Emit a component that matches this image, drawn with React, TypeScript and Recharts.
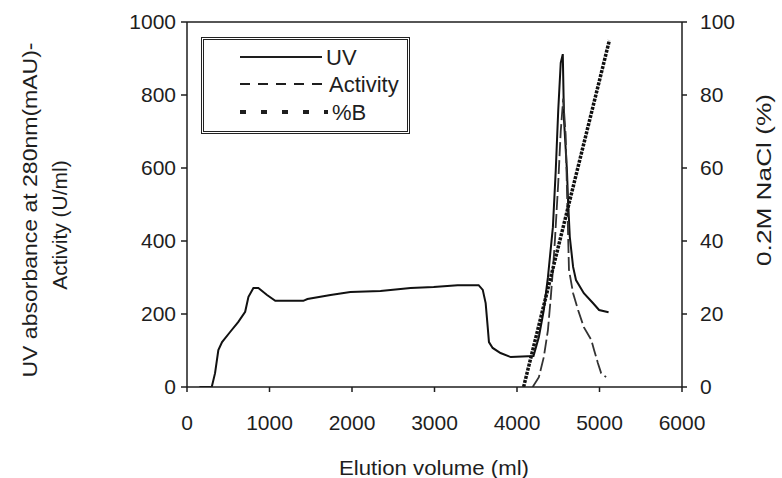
import React from 'react';
import { ComposedChart, Line, XAxis, YAxis, ReferenceLine, Legend } from 'recharts';

// ---- Data ----
const volumeTicks = [0, 1000, 2000, 3000, 4000, 5000, 6000];
const leftTicks = [0, 200, 400, 600, 800, 1000];
const rightTicks = [0, 20, 40, 60, 80, 100];

const uvVolume = [150, 300, 340, 380, 425, 520, 620, 705, 745, 805, 865, 970, 1070, 1410, 1460, 1740, 1980, 2345, 2710, 2990, 3280, 3535, 3585, 3620, 3645, 3660, 3705, 3800, 3925, 4200, 4265, 4325, 4375, 4435, 4470, 4500, 4530, 4555, 4570, 4605, 4620, 4640, 4680, 4715, 4810, 4920, 4995, 5110];
const uvAbsorbance = [0, 0, 38, 101, 123, 150, 178, 206, 247, 271, 271, 252, 236, 236, 241, 252, 260, 263, 271, 274, 279, 279, 266, 230, 164, 123, 107, 93, 82, 85, 137, 211, 301, 438, 595, 759, 888, 912, 731, 595, 504, 411, 329, 293, 257, 230, 211, 205];

const activityVolume = [4190, 4265, 4325, 4375, 4410, 4435, 4460, 4500, 4530, 4560, 4590, 4610, 4630, 4680, 4740, 4810, 4900, 4935, 4980, 5020, 5080];
const activityValues = [0, 27, 82, 156, 247, 321, 403, 560, 700, 790, 690, 500, 321, 257, 211, 164, 129, 101, 66, 38, 27];

const gradientVolume = [4080, 5120];
const gradientPercent = [0, 95];

const seriesNames = ['UV', 'Activity', '%B'];

const uvData = uvVolume.map((x, i) => ({ x, y: uvAbsorbance[i] }));
const activityData = activityVolume.map((x, i) => ({ x, y: activityValues[i] }));
const gradientData = gradientVolume.map((x, i) => ({ x, y: gradientPercent[i] }));

const FONT = '"Liberation Sans", Arial, sans-serif';
const INK = '#1e1e1e';

const LegendBox = () => (
  <div
    style={{
      width: 209,
      height: 97,
      boxSizing: 'border-box',
      border: '3px double #222',
      background: '#fff',
    }}
  >
    <svg width={203} height={91} style={{ display: 'block' }}>
      <line x1={36} y1={17} x2={118} y2={17} stroke={INK} strokeWidth={2} />
      <text x={122} y={17} dominantBaseline="central" fontSize={22} fill={INK} fontFamily={FONT}>{seriesNames[0]}</text>
      <line x1={36} y1={44} x2={124} y2={44} stroke={INK} strokeWidth={2} strokeDasharray="10 8" />
      <text x={125} y={44} dominantBaseline="central" fontSize={22} fill={INK} fontFamily={FONT}>{seriesNames[1]}</text>
      <line x1={36} y1={72} x2={124} y2={72} stroke={INK} strokeWidth={4} strokeDasharray="6 15" />
      <text x={128} y={72} dominantBaseline="central" fontSize={22} fill={INK} fontFamily={FONT}>{seriesNames[2]}</text>
    </svg>
  </div>
);

const rotated = (cx: number, cy: number, text: string, len?: number) => (
  <text
    x={cx}
    y={cy}
    transform={`rotate(-90, ${cx}, ${cy})`}
    textAnchor="middle"
    dominantBaseline="central"
    fontSize={21}
    fill={INK}
    fontFamily={FONT}
    {...(len ? { textLength: len, lengthAdjust: 'spacingAndGlyphs' } : {})}
  >
    {text}
  </text>
);

export default function App() {
  const tickStyle = { fontSize: 21, fill: INK, fontFamily: FONT };
  return (
    <div style={{ position: 'absolute', left: 0, top: 0, width: 782, height: 478, background: '#fff', fontFamily: FONT }}>
      <ComposedChart width={782} height={478} margin={{ top: 22, right: 40, bottom: 51, left: 107 }}>
        <XAxis
          type="number"
          dataKey="x"
          domain={[0, 6000]}
          ticks={volumeTicks}
          allowDataOverflow
          height={40}
          tickSize={5}
          tickMargin={23}
          tick={tickStyle}
          stroke={INK}
          strokeWidth={1.5}
          label={{
            content: () => (
              <text x={434} y={467} textAnchor="middle" dominantBaseline="central" fontSize={21} fill={INK} fontFamily={FONT} textLength={190} lengthAdjust="spacingAndGlyphs">
                Elution volume (ml)
              </text>
            ),
          }}
        />
        <YAxis
          yAxisId="left"
          type="number"
          domain={[0, 1000]}
          ticks={leftTicks}
          allowDataOverflow
          width={80}
          tickSize={6}
          tickMargin={5}
          tick={tickStyle}
          stroke={INK}
          strokeWidth={1.5}
          label={{
            content: () => (
              <g>
                {rotated(29, 210, 'UV absorbance at 280nm(mAU)-', 335)}
                {rotated(59, 225, 'Activity (U/ml)')}
              </g>
            ),
          }}
        />
        <YAxis
          yAxisId="right"
          orientation="right"
          type="number"
          domain={[0, 100]}
          ticks={rightTicks}
          allowDataOverflow
          width={60}
          tickSize={5}
          tickMargin={13}
          tick={tickStyle}
          stroke={INK}
          strokeWidth={1.5}
          label={{
            content: () => rotated(763, 180, '0.2M NaCl (%)', 172),
          }}
        />
        <ReferenceLine yAxisId="left" y={1000} stroke={INK} strokeWidth={1.5} ifOverflow="extendDomain" />
        <Line
          yAxisId="left"
          data={uvData}
          dataKey="y"
          name={seriesNames[0]}
          type="linear"
          stroke="#111"
          strokeWidth={2}
          dot={false}
          isAnimationActive={false}
        />
        <Line
          yAxisId="left"
          data={activityData}
          dataKey="y"
          name={seriesNames[1]}
          type="linear"
          stroke="#333"
          strokeWidth={1.8}
          strokeDasharray="14 4"
          dot={false}
          isAnimationActive={false}
        />
        <Line
          yAxisId="right"
          data={gradientData}
          dataKey="y"
          name={seriesNames[2]}
          type="linear"
          stroke="#111"
          strokeWidth={3.5}
          strokeDasharray="3 1.2"
          dot={false}
          isAnimationActive={false}
        />
        <Legend
          layout="vertical"
          align="center"
          verticalAlign="middle"
          content={() => <LegendBox />}
          wrapperStyle={{ position: 'absolute', left: 201, top: 37, width: 209, height: 97, margin: 0 }}
        />
      </ComposedChart>
    </div>
  );
}
